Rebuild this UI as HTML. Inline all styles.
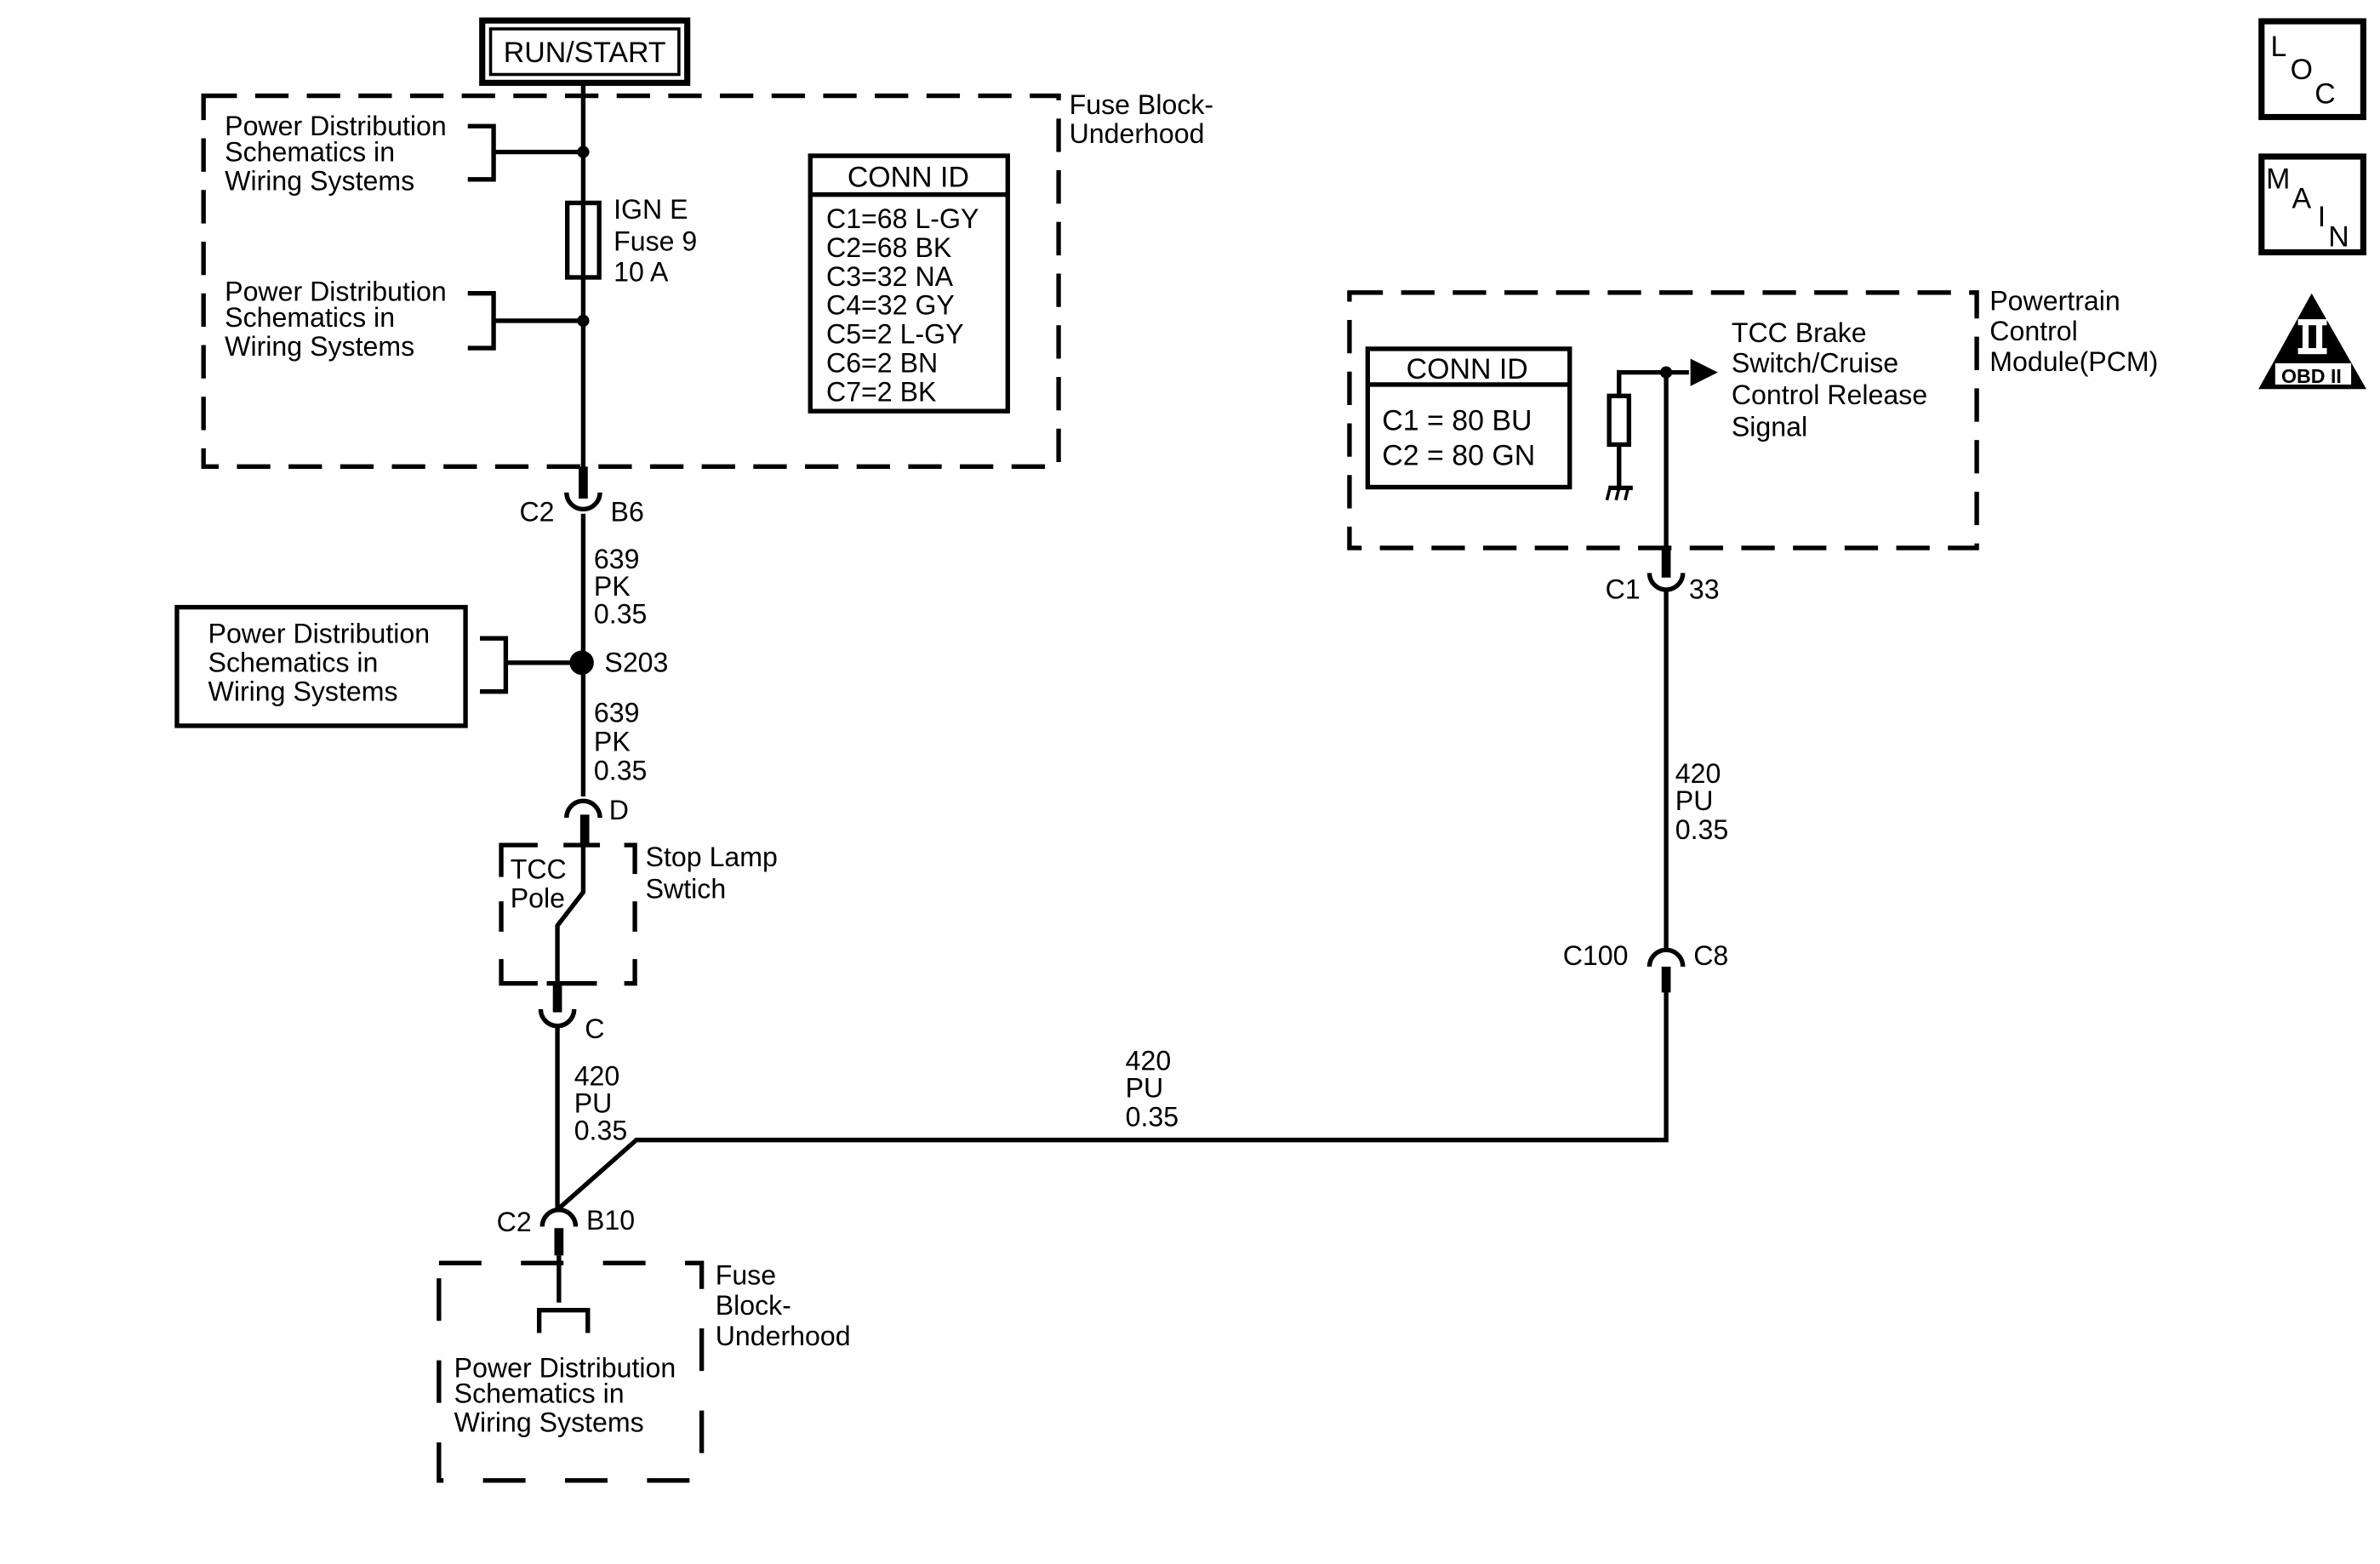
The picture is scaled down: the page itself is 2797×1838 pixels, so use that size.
<!DOCTYPE html>
<html><head><meta charset="utf-8"><style>
html,body{margin:0;padding:0;background:#fff;}
svg{display:block;}
text{font-family:"Liberation Sans",sans-serif;font-size:18px;fill:#000;}
</style></head><body>
<svg width="2797" height="1838" viewBox="0 0 1567 1029" preserveAspectRatio="none" xmlns="http://www.w3.org/2000/svg">
<g fill="none" stroke="#000" stroke-width="3">
<rect x="317.5" y="13.5" width="135" height="41" stroke-width="4"/>
<rect x="323" y="19" width="124" height="30" stroke-width="2"/>
<rect x="134" y="63" width="563" height="244" stroke-dasharray="22 12"/>
<line x1="384" y1="55" x2="384" y2="308"/>
<polyline points="308,83 325,83 325,118 308,118"/>
<line x1="325" y1="100" x2="384" y2="100"/>
<polyline points="308,193 325,193 325,229 308,229"/>
<line x1="325" y1="211" x2="384" y2="211"/>
<rect x="373.5" y="133.5" width="21" height="49"/>
<rect x="533.5" y="102.5" width="130" height="168"/>
<line x1="533" y1="128" x2="664" y2="128"/>
<line x1="384" y1="307" x2="384" y2="328" stroke-width="6"/>
<path d="M373,324 A11,11 0 0 0 395,324"/>
<line x1="384" y1="338" x2="384" y2="524"/>
<rect x="116.5" y="399.5" width="190" height="78"/>
<polyline points="316,420 333,420 333,455 316,455"/>
<line x1="333" y1="436" x2="383" y2="436"/>
<path d="M373,538 A11,11 0 0 1 395,538"/>
<line x1="385" y1="536" x2="385" y2="556" stroke-width="6"/>
<polyline points="330,577 330,556 354,556"/>
<line x1="371" y1="556" x2="395" y2="556"/>
<polyline points="411,556 418,556 418,575"/>
<line x1="330" y1="593" x2="330" y2="613"/>
<line x1="418" y1="593" x2="418" y2="613"/>
<polyline points="330,631 330,647 354,647"/>
<line x1="360" y1="647" x2="393" y2="647"/>
<polyline points="411,647 418,647 418,631"/>
<polyline points="384,556 384,587 367,609 367,647"/>
<line x1="367" y1="647" x2="367" y2="666" stroke-width="6"/>
<path d="M356,664 A11,11 0 0 0 378,664"/>
<line x1="367" y1="676" x2="367" y2="795"/>
<polyline points="368,795 419,750 1097,750 1097,652"/>
<path d="M357,807 A11,11 0 0 1 379,807"/>
<line x1="368" y1="808" x2="368" y2="826" stroke-width="6"/>
<line x1="368" y1="826" x2="368" y2="857"/>
<polyline points="355,877 355,862 387,862 387,877"/>
<rect x="289" y="831" width="173" height="143" stroke-dasharray="28 26"/>
<rect x="888.5" y="192.5" width="413" height="168" stroke-dasharray="22 12"/>
<rect x="900.5" y="229.5" width="133" height="91"/>
<line x1="900" y1="253" x2="1034" y2="253"/>
<polyline points="1066,260 1066,245 1112,245"/>
<rect x="1059.5" y="260.5" width="13" height="32"/>
<line x1="1066" y1="292" x2="1066" y2="321"/>
<line x1="1059" y1="321" x2="1075" y2="321"/>
<line x1="1060" y1="321" x2="1058" y2="329" stroke-width="2"/>
<line x1="1066" y1="321" x2="1064" y2="329" stroke-width="2"/>
<line x1="1072" y1="321" x2="1070" y2="329" stroke-width="2"/>
<line x1="1097" y1="245" x2="1097" y2="362"/>
<line x1="1097" y1="360" x2="1097" y2="380" stroke-width="6"/>
<path d="M1086,377 A11,11 0 0 0 1108,377"/>
<line x1="1097" y1="388" x2="1097" y2="624"/>
<path d="M1086,636 A11,11 0 0 1 1108,636"/>
<line x1="1097" y1="636" x2="1097" y2="653" stroke-width="6"/>
<rect x="1489" y="14" width="67" height="63" stroke-width="4"/>
<rect x="1489" y="103" width="67" height="63" stroke-width="4"/>
</g>
<circle cx="384" cy="100" r="4"/>
<circle cx="384" cy="211" r="4"/>
<circle cx="383" cy="436" r="8"/>
<circle cx="1097" cy="245" r="4"/>
<polygon points="1113,236 1131,245 1113,254"/>
<polygon points="1522,193 1487,256 1558,256"/>
<rect x="1498" y="239" width="50" height="14" fill="#fff"/>
<rect x="1513" y="210" width="19" height="4" fill="#fff"/>
<rect x="1513" y="229" width="19" height="4" fill="#fff"/>
<rect x="1516" y="213" width="4" height="17" fill="#fff"/>
<rect x="1525" y="213" width="4" height="17" fill="#fff"/>
<text x="1502" y="252" style="font-size:13px;font-weight:bold">OBD II</text>
<text x="1495" y="37" style="font-size:19px">L</text>
<text x="1508" y="52" style="font-size:19px">O</text>
<text x="1524" y="68" style="font-size:19px">C</text>
<text x="1492" y="124" style="font-size:19px">M</text>
<text x="1509" y="137" style="font-size:19px">A</text>
<text x="1526" y="149" style="font-size:19px">I</text>
<text x="1533" y="162" style="font-size:19px">N</text>

<text x="385" y="41" text-anchor="middle" style="font-size:19px">RUN/START</text>
<text x="148" y="89">Power Distribution</text>
<text x="148" y="106">Schematics in</text>
<text x="148" y="125">Wiring Systems</text>
<text x="148" y="198">Power Distribution</text>
<text x="148" y="215">Schematics in</text>
<text x="148" y="234">Wiring Systems</text>
<text x="404" y="144">IGN E</text>
<text x="404" y="165">Fuse 9</text>
<text x="404" y="185">10 A</text>
<text x="598" y="123" text-anchor="middle" style="font-size:19px">CONN ID</text>
<text x="544" y="150">C1=68 L-GY</text>
<text x="544" y="169">C2=68 BK</text>
<text x="544" y="188">C3=32 NA</text>
<text x="544" y="207">C4=32 GY</text>
<text x="544" y="226">C5=2 L-GY</text>
<text x="544" y="245">C6=2 BN</text>
<text x="544" y="264">C7=2 BK</text>
<text x="704" y="75">Fuse Block-</text>
<text x="704" y="94">Underhood</text>
<text x="342" y="343">C2</text>
<text x="402" y="343">B6</text>
<text x="391" y="374">639</text>
<text x="391" y="392">PK</text>
<text x="391" y="410">0.35</text>
<text x="137" y="423">Power Distribution</text>
<text x="137" y="442">Schematics in</text>
<text x="137" y="461">Wiring Systems</text>
<text x="398" y="442">S203</text>
<text x="391" y="475">639</text>
<text x="391" y="494">PK</text>
<text x="391" y="513">0.35</text>
<text x="401" y="539">D</text>
<text x="336" y="578">TCC</text>
<text x="336" y="597">Pole</text>
<text x="425" y="570">Stop Lamp</text>
<text x="425" y="591">Swtich</text>
<text x="385" y="683">C</text>
<text x="378" y="714">420</text>
<text x="378" y="732">PU</text>
<text x="378" y="750">0.35</text>
<text x="741" y="704">420</text>
<text x="741" y="722">PU</text>
<text x="741" y="741">0.35</text>
<text x="327" y="810">C2</text>
<text x="386" y="809">B10</text>
<text x="471" y="845">Fuse</text>
<text x="471" y="865">Block-</text>
<text x="471" y="885">Underhood</text>
<text x="299" y="906">Power Distribution</text>
<text x="299" y="923">Schematics in</text>
<text x="299" y="942">Wiring Systems</text>
<text x="1310" y="204">Powertrain</text>
<text x="1310" y="224">Control</text>
<text x="1310" y="244">Module(PCM)</text>
<text x="966" y="249" text-anchor="middle" style="font-size:19px">CONN ID</text>
<text x="910" y="283" style="font-size:19px">C1 = 80 BU</text>
<text x="910" y="306" style="font-size:19px">C2 = 80 GN</text>
<text x="1140" y="225">TCC Brake</text>
<text x="1140" y="245">Switch/Cruise</text>
<text x="1140" y="266">Control Release</text>
<text x="1140" y="287">Signal</text>
<text x="1057" y="394">C1</text>
<text x="1112" y="394">33</text>
<text x="1103" y="515">420</text>
<text x="1103" y="533">PU</text>
<text x="1103" y="552">0.35</text>
<text x="1029" y="635">C100</text>
<text x="1115" y="635">C8</text>
</svg>
</body></html>
